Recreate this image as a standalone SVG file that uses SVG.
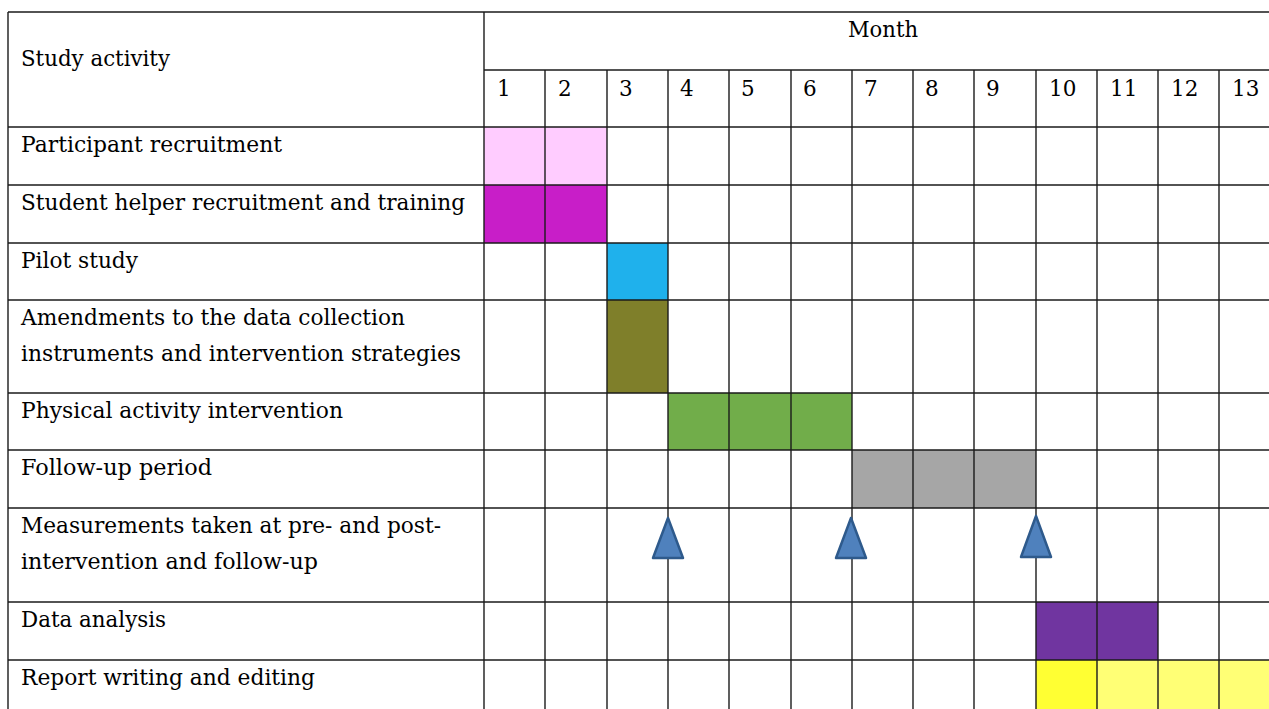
<svg xmlns="http://www.w3.org/2000/svg" width="1269" height="709" viewBox="0 0 1269 709">
<style>
  .t { font-family: "DejaVu Serif", "Liberation Serif", serif; font-size: 21.5px; fill: #000; }
  .n { font-family: "DejaVu Serif", "Liberation Serif", serif; font-size: 21.5px; fill: #000; }
  .grid line { stroke: #1a1a1a; stroke-width: 1.4; }
  .tri { fill: #4F81BD; stroke: #2E5A8C; stroke-width: 2.5; stroke-linejoin: round; }
</style>
<rect x="0" y="0" width="1269" height="709" fill="#fff"/>

<g id="bars">
  <rect x="484" y="127" width="123" height="58" fill="#FFCCFF"/>
  <rect x="484" y="185" width="123" height="58" fill="#C81EC8"/>
  <rect x="607" y="243" width="61" height="57" fill="#1FB1EC"/>
  <rect x="607" y="300" width="61" height="93" fill="#7F7F2A"/>
  <rect x="668" y="393" width="184" height="57" fill="#71AD4A"/>
  <rect x="852" y="450" width="184" height="58" fill="#A6A6A6"/>
  <rect x="1036" y="602" width="122" height="58" fill="#7035A0"/>
  <rect x="1036" y="660" width="61" height="60" fill="#FFFF33"/>
  <rect x="1097" y="660" width="180" height="60" fill="#FFFF75"/>
</g>

<g id="grid" class="grid">
  <line x1="8" y1="12" x2="1269" y2="12"/>
  <line x1="484" y1="70" x2="1269" y2="70"/>
  <line x1="8" y1="127" x2="1269" y2="127"/>
  <line x1="8" y1="185" x2="1269" y2="185"/>
  <line x1="8" y1="243" x2="1269" y2="243"/>
  <line x1="8" y1="300" x2="1269" y2="300"/>
  <line x1="8" y1="393" x2="1269" y2="393"/>
  <line x1="8" y1="450" x2="1269" y2="450"/>
  <line x1="8" y1="508" x2="1269" y2="508"/>
  <line x1="8" y1="602" x2="1269" y2="602"/>
  <line x1="8" y1="660" x2="1269" y2="660"/>
  <line x1="8" y1="12" x2="8" y2="709"/>
  <line x1="484" y1="12" x2="484" y2="709"/>
  <line x1="545" y1="70" x2="545" y2="709"/>
  <line x1="607" y1="70" x2="607" y2="709"/>
  <line x1="668" y1="70" x2="668" y2="709"/>
  <line x1="729" y1="70" x2="729" y2="709"/>
  <line x1="791" y1="70" x2="791" y2="709"/>
  <line x1="852" y1="70" x2="852" y2="709"/>
  <line x1="913" y1="70" x2="913" y2="709"/>
  <line x1="974" y1="70" x2="974" y2="709"/>
  <line x1="1036" y1="70" x2="1036" y2="709"/>
  <line x1="1097" y1="70" x2="1097" y2="709"/>
  <line x1="1158" y1="70" x2="1158" y2="709"/>
  <line x1="1219" y1="70" x2="1219" y2="709"/>
</g>

<g id="header">
  <text class="t" x="21" y="66" textLength="149" lengthAdjust="spacingAndGlyphs">Study activity</text>
  <text class="t" x="848" y="37" textLength="70" lengthAdjust="spacingAndGlyphs">Month</text>
  <text class="n" x="497" y="96">1</text>
  <text class="n" x="558" y="96">2</text>
  <text class="n" x="619" y="96">3</text>
  <text class="n" x="680" y="96">4</text>
  <text class="n" x="741" y="96">5</text>
  <text class="n" x="803" y="96">6</text>
  <text class="n" x="864" y="96">7</text>
  <text class="n" x="925" y="96">8</text>
  <text class="n" x="986" y="96">9</text>
  <text class="n" x="1049" y="96">10</text>
  <text class="n" x="1110" y="96">11</text>
  <text class="n" x="1171" y="96">12</text>
  <text class="n" x="1232" y="96">13</text>
</g>

<g id="row-participant"><text class="t" x="21" y="152" textLength="261" lengthAdjust="spacingAndGlyphs">Participant recruitment</text></g>
<g id="row-student"><text class="t" x="21" y="210" textLength="444" lengthAdjust="spacingAndGlyphs">Student helper recruitment and training</text></g>
<g id="row-pilot"><text class="t" x="21" y="268" textLength="117" lengthAdjust="spacingAndGlyphs">Pilot study</text></g>
<g id="row-amend">
  <text class="t" x="21" y="325" textLength="384" lengthAdjust="spacingAndGlyphs">Amendments to the data collection</text>
  <text class="t" x="21" y="361" textLength="440" lengthAdjust="spacingAndGlyphs">instruments and intervention strategies</text>
</g>
<g id="row-physical"><text class="t" x="21" y="418" textLength="322" lengthAdjust="spacingAndGlyphs">Physical activity intervention</text></g>
<g id="row-followup"><text class="t" x="21" y="475" textLength="191" lengthAdjust="spacingAndGlyphs">Follow-up period</text></g>
<g id="row-measure">
  <text class="t" x="21" y="533" textLength="420" lengthAdjust="spacingAndGlyphs">Measurements taken at pre- and post-</text>
  <text class="t" x="21" y="569" textLength="297" lengthAdjust="spacingAndGlyphs">intervention and follow-up</text>
  <polygon class="tri" points="668,518 653,558 683,558"/>
  <polygon class="tri" points="851,518 836,558 866,558"/>
  <polygon class="tri" points="1036,516 1021,557 1051,557"/>
</g>
<g id="row-analysis"><text class="t" x="21" y="627" textLength="145" lengthAdjust="spacingAndGlyphs">Data analysis</text></g>
<g id="row-report"><text class="t" x="21" y="685" textLength="294" lengthAdjust="spacingAndGlyphs">Report writing and editing</text></g>
</svg>
